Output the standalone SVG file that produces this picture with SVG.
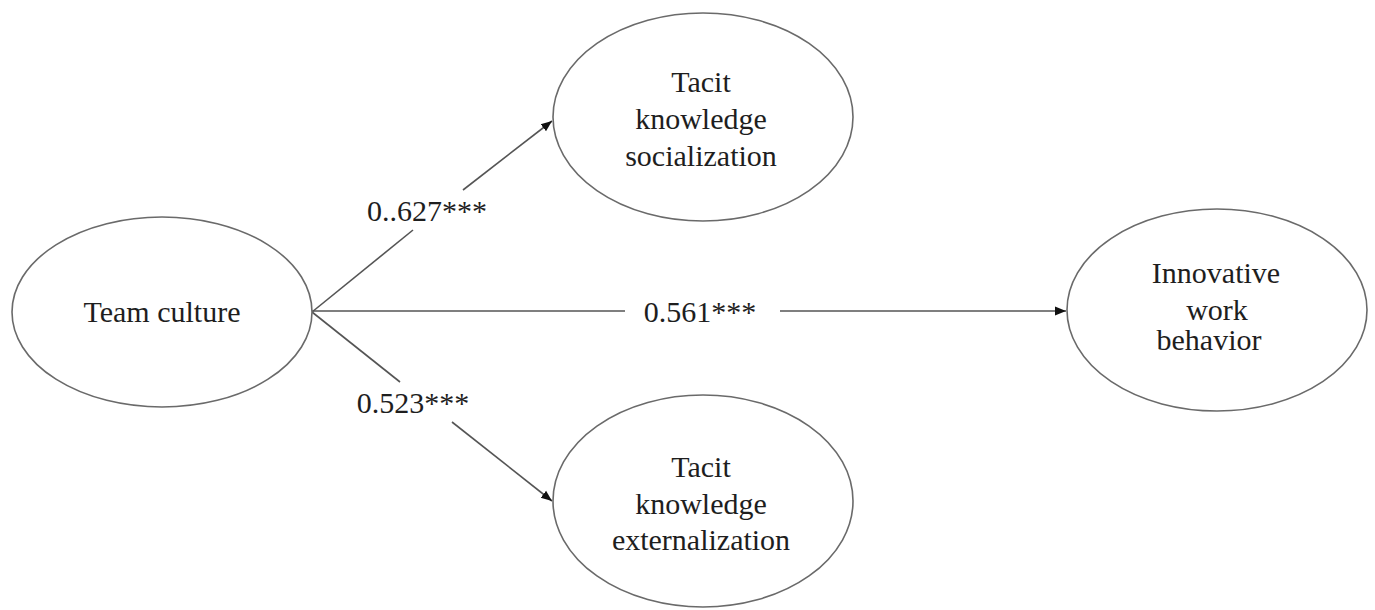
<svg xmlns="http://www.w3.org/2000/svg" width="1375" height="610" viewBox="0 0 1375 610">
<style>
.node ellipse{fill:#fff;stroke:#6a6a6a;stroke-width:1.6}
text{font-family:"Liberation Serif","Times New Roman",serif;font-size:30px;fill:#1e1e1e;text-anchor:middle}
.conn line{stroke:#555;stroke-width:1.6;fill:none}
</style>
<defs>
<marker id="ah" viewBox="0 0 10 10" refX="10" refY="5" markerWidth="11" markerHeight="11" markerUnits="userSpaceOnUse" orient="auto">
<path d="M0,1 L10,5 L0,9 z" fill="#111"/>
</marker>
</defs>
<rect width="1375" height="610" fill="#fff"/>
<g id="connectors" class="conn">
<line x1="312" y1="312" x2="413" y2="230"/>
<line x1="463" y1="190" x2="552" y2="121" marker-end="url(#ah)"/>
<line x1="312" y1="312" x2="400" y2="382"/>
<line x1="452" y1="422" x2="552" y2="501" marker-end="url(#ah)"/>
<line x1="312" y1="311" x2="625" y2="311"/>
<line x1="780" y1="311" x2="1066" y2="311" marker-end="url(#ah)"/>
<text x="427" y="221">0..627***</text>
<text x="413" y="413">0.523***</text>
<text x="700" y="322">0.561***</text>
</g>
<g id="team-culture" class="node">
<ellipse cx="162" cy="312" rx="150" ry="95"/>
<text x="162" y="322">Team culture</text>
</g>
<g id="tacit-socialization" class="node">
<ellipse cx="703" cy="117" rx="150" ry="104"/>
<text x="701" y="92">Tacit</text>
<text x="701" y="129">knowledge</text>
<text x="701" y="166">socialization</text>
</g>
<g id="tacit-externalization" class="node">
<ellipse cx="703" cy="501" rx="150" ry="106"/>
<text x="701" y="477">Tacit</text>
<text x="701" y="514">knowledge</text>
<text x="701" y="550">externalization</text>
</g>
<g id="innovative-work-behavior" class="node">
<ellipse cx="1217" cy="310" rx="150" ry="101"/>
<text x="1216" y="283">Innovative</text>
<text x="1217" y="320">work</text>
<text x="1209" y="350">behavior</text>
</g>
</svg>
